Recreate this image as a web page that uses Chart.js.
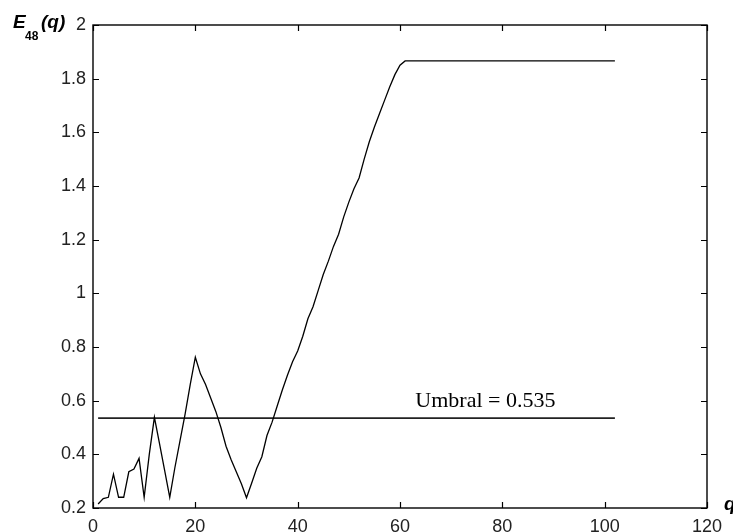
<!DOCTYPE html>
<html>
<head>
<meta charset="utf-8">
<script src="https://cdn.jsdelivr.net/npm/chart.js@4"></script>
<style>
  html, body { margin: 0; padding: 0; background: #fff; }
  #wrap { width: 733px; height: 532px; }
</style>
</head>
<body>
<div id="wrap"><canvas id="c" width="733" height="532"></canvas></div>
<script>
// q values and the energy E48(q) at each q
const qValues = [
  1, 2, 3, 4, 5, 6, 7, 8, 9, 10,
  11, 12, 13, 14, 15, 16, 17, 18, 19, 20,
  21, 22, 23, 24, 25, 26, 27, 28, 29, 30,
  31, 32, 33, 34, 35, 36, 37, 38, 39, 40,
  41, 42, 43, 44, 45, 46, 47, 48, 49, 50,
  51, 52, 53, 54, 55, 56, 57, 58, 59, 60,
  61, 102
];
const energyValues = [
  0.215, 0.235, 0.240, 0.326, 0.240, 0.240, 0.335, 0.345, 0.385, 0.240,
  0.400, 0.538, 0.440, 0.340, 0.240, 0.350, 0.450, 0.550, 0.660, 0.762,
  0.700, 0.660, 0.610, 0.560, 0.500, 0.430, 0.380, 0.335, 0.290, 0.238,
  0.292, 0.348, 0.391, 0.470, 0.520, 0.580, 0.640, 0.695, 0.745, 0.785,
  0.840, 0.905, 0.950, 1.010, 1.070, 1.120, 1.175, 1.220, 1.285, 1.340,
  1.390, 1.430, 1.500, 1.565, 1.620, 1.670, 1.720, 1.770, 1.815, 1.850,
  1.866, 1.866
];

// Threshold ("Umbral") line
const thresholdValue = 0.535;
const thresholdRange = [1, 102];
const thresholdLabel = 'Umbral = 0.535';

// Axis ticks
const xTicks = [0, 20, 40, 60, 80, 100, 120];
const yTicks = [0.2, 0.4, 0.6, 0.8, 1, 1.2, 1.4, 1.6, 1.8, 2];

const curveData = qValues.map((q, i) => ({ x: q, y: energyValues[i] }));
const thresholdData = thresholdRange.map(q => ({ x: q, y: thresholdValue }));

const tickFont = { family: 'Liberation Sans, Arial, sans-serif', size: 18 };

// Frame, inward tick marks and annotation texts
const framePlugin = {
  id: 'frame',
  afterDraw(chart) {
    const { ctx, chartArea: a, scales } = chart;
    const xs = scales.x, ys = scales.y;
    const tl = 6;
    ctx.save();
    ctx.strokeStyle = '#000';
    ctx.lineWidth = 1.4;
    ctx.strokeRect(a.left, a.top, a.right - a.left, a.bottom - a.top);
    ctx.lineWidth = 1.2;
    ctx.beginPath();
    xTicks.forEach(v => {
      const px = Math.round(xs.getPixelForValue(v)) + 0.5;
      ctx.moveTo(px, a.bottom); ctx.lineTo(px, a.bottom - tl);
      ctx.moveTo(px, a.top); ctx.lineTo(px, a.top + tl);
    });
    yTicks.forEach(v => {
      const py = Math.round(ys.getPixelForValue(v)) + 0.5;
      ctx.moveTo(a.left, py); ctx.lineTo(a.left + tl, py);
      ctx.moveTo(a.right, py); ctx.lineTo(a.right - tl, py);
    });
    ctx.stroke();

    // Axis titles
    ctx.fillStyle = '#000';
    ctx.textBaseline = 'alphabetic';
    ctx.textAlign = 'left';
    ctx.font = 'italic bold 19px "Liberation Sans", Arial, sans-serif';
    ctx.fillText('E', 13, 28);
    ctx.font = 'bold 12px "Liberation Sans", Arial, sans-serif';
    ctx.fillText('48', 25, 40);
    ctx.font = 'italic bold 19px "Liberation Sans", Arial, sans-serif';
    ctx.fillText('(q)', 41, 28);
    ctx.fillText('q', 724, 510);

    // Threshold annotation
    ctx.font = '22px "Liberation Serif", "Times New Roman", serif';
    ctx.fillText(thresholdLabel, xs.getPixelForValue(63), ys.getPixelForValue(0.576));
    ctx.restore();
  }
};

new Chart(document.getElementById('c'), {
  type: 'line',
  data: {
    datasets: [
      {
        data: curveData,
        borderColor: '#000',
        borderWidth: 1.3,
        pointRadius: 0,
        tension: 0,
        fill: false
      },
      {
        data: thresholdData,
        borderColor: '#222',
        borderWidth: 1.8,
        pointRadius: 0,
        fill: false
      }
    ]
  },
  options: {
    responsive: false,
    animation: false,
    devicePixelRatio: 1,
    layout: { padding: { left: 0, top: 25, right: 26, bottom: 0 } },
    plugins: {
      legend: { display: false },
      tooltip: { enabled: false }
    },
    scales: {
      x: {
        type: 'linear',
        min: 0, max: 120,
        afterBuildTicks(scale) { scale.ticks = xTicks.map(v => ({ value: v })); },
        afterFit(scale) { scale.height = 24; },
        grid: { display: false, drawTicks: false },
        border: { display: false },
        ticks: {
          font: tickFont, color: '#222', padding: 8, maxRotation: 0,
          callback: v => String(v)
        }
      },
      y: {
        type: 'linear',
        min: 0.2, max: 2,
        afterBuildTicks(scale) { scale.ticks = yTicks.map(v => ({ value: v })); },
        afterFit(scale) { scale.width = 93; },
        grid: { display: false, drawTicks: false },
        border: { display: false },
        ticks: {
          font: tickFont, color: '#222', padding: 7,
          callback: v => String(Number(v.toFixed(1)))
        }
      }
    }
  },
  plugins: [framePlugin]
});
</script>
</body>
</html>
